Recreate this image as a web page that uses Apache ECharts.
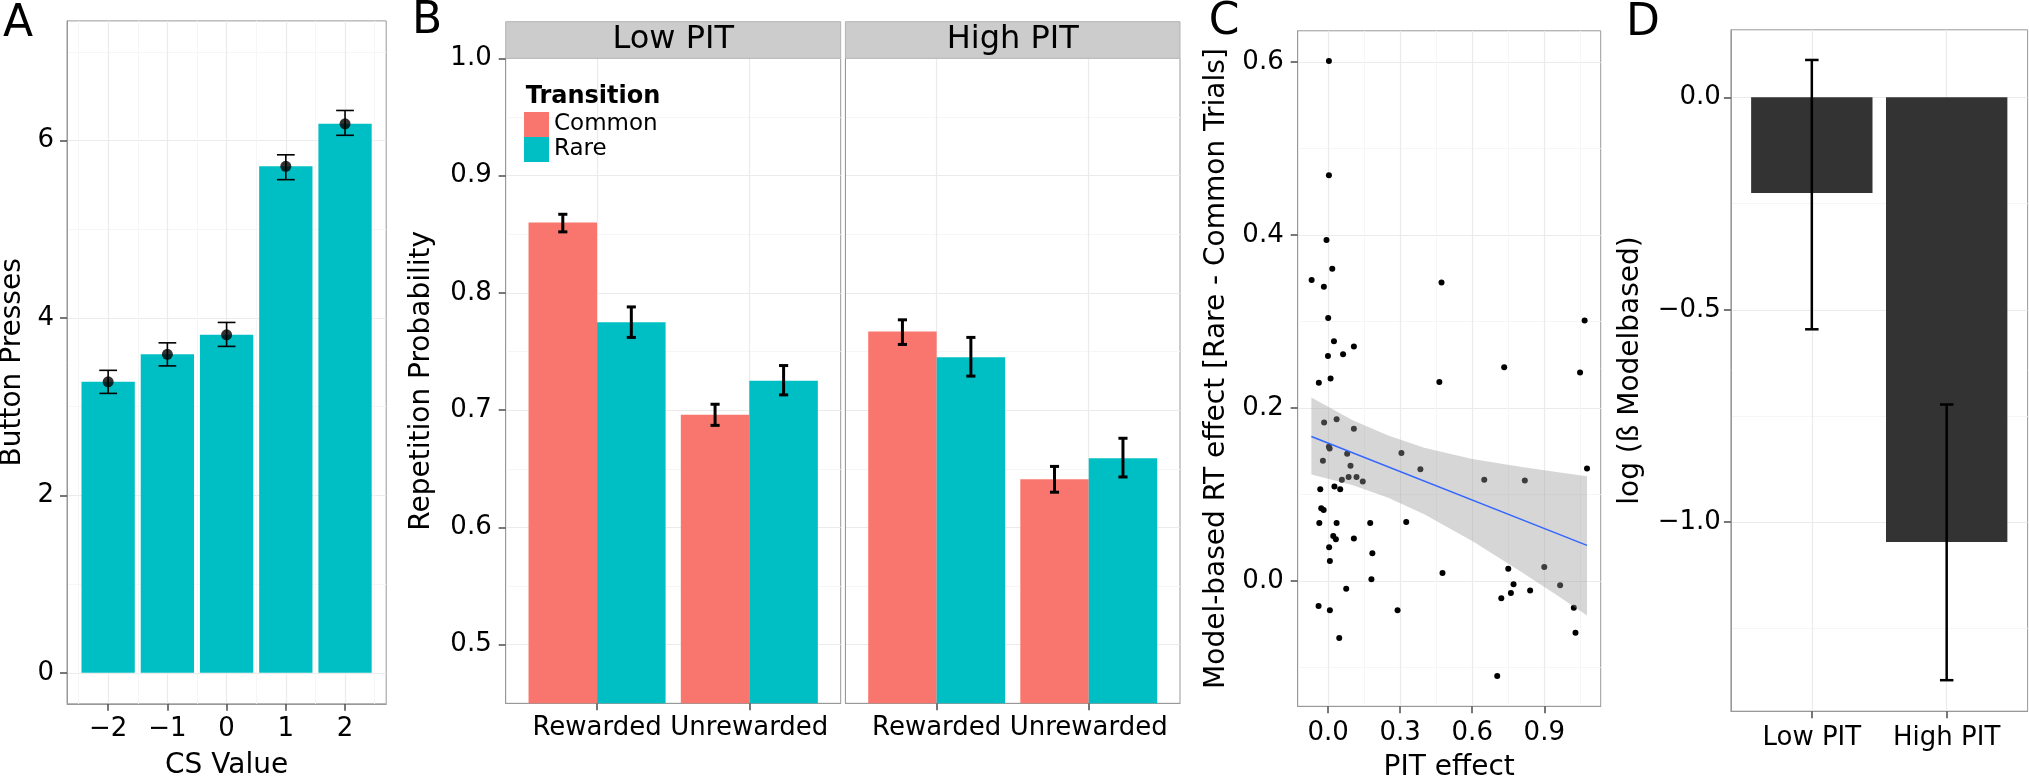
<!DOCTYPE html>
<html><head><meta charset="utf-8">
<script src="https://cdn.jsdelivr.net/npm/echarts@6/dist/echarts.min.js"></script>
<style>html,body{margin:0;padding:0;background:#fff}#chart{width:2029px;height:780px}</style>
</head><body><div id="chart"></div>
<script>
// ---------- Panel A ----------
const csValues = [-2, -1, 0, 1, 2];
const pressMean = [3.28, 3.59, 3.81, 5.71, 6.19];
const pressLow = [3.15, 3.46, 3.68, 5.56, 6.06];
const pressHigh = [3.41, 3.72, 3.95, 5.84, 6.34];
const aXTicks = [-2, -1, 0, 1, 2];
const aYTicks = [0, 2, 4, 6];
// ---------- Panel B ----------
const facets = ['Low PIT', 'High PIT'];
const outcomes = ['Rewarded', 'Unrewarded'];
const transitions = ['Common', 'Rare'];
const lowCommonMean = [0.860, 0.696];
const lowCommonLow = [0.852, 0.687];
const lowCommonHigh = [0.867, 0.705];
const lowRareMean = [0.775, 0.725];
const lowRareLow = [0.762, 0.713];
const lowRareHigh = [0.788, 0.738];
const highCommonMean = [0.767, 0.641];
const highCommonLow = [0.756, 0.630];
const highCommonHigh = [0.777, 0.652];
const highRareMean = [0.745, 0.659];
const highRareLow = [0.729, 0.643];
const highRareHigh = [0.762, 0.676];
const bXTicks = [0, 1];
const bYTicks = [0.5, 0.6, 0.7, 0.8, 0.9, 1.0];
// ---------- Panel C ----------
const pitPoints = [
  [0.003,0.601],[0.003,0.469],[-0.007,0.394],[-0.069,0.348],[-0.018,0.340],[0.017,0.361],
  [0.000,0.304],[0.024,0.277],[0.107,0.271],[-0.001,0.260],[0.062,0.262],[0.010,0.234],
  [-0.039,0.229],[0.472,0.345],[0.463,0.230],[-0.017,0.183],[0.035,0.187],[0.107,0.176],
  [0.003,0.155],[0.006,0.153],[-0.022,0.139],[0.079,0.147],[0.093,0.133],[0.305,0.148],
  [0.384,0.129],[0.085,0.120],[0.118,0.120],[0.144,0.115],[0.057,0.117],[-0.033,0.106],
  [0.026,0.109],[0.050,0.106],[0.650,0.117],[-0.029,0.084],[-0.019,0.082],[-0.037,0.067],
  [0.035,0.067],[0.175,0.067],[0.325,0.068],[0.021,0.052],[0.032,0.048],[0.107,0.049],
  [0.004,0.039],[0.184,0.032],[0.007,0.023],[0.180,0.002],[0.476,0.009],[0.075,-0.009],
  [-0.040,-0.029],[0.007,-0.034],[0.289,-0.034],[0.046,-0.066],[1.068,0.301],[0.733,0.247],
  [1.049,0.241],[1.078,0.130],[0.819,0.116],[0.750,0.014],[0.900,0.016],[0.772,-0.004],
  [0.761,-0.014],[0.841,-0.011],[0.721,-0.020],[0.966,-0.005],[1.023,-0.031],[1.030,-0.060],
  [0.704,-0.110]
];
const fitX = [-0.070, 1.078];
const fitY = [0.167, 0.041];
const bandX = [-0.070, 0.10, 0.25, 0.40, 0.60, 0.80, 0.95, 1.078];
const bandLow = [0.123, 0.111, 0.096, 0.077, 0.046, 0.011, -0.016, -0.040];
const bandHigh = [0.212, 0.186, 0.168, 0.154, 0.141, 0.132, 0.126, 0.121];
const cXTicks = [0, 0.3, 0.6, 0.9];
const cYTicks = [0, 0.2, 0.4, 0.6];
// ---------- Panel D ----------
const pitGroups = ['Low PIT', 'High PIT'];
const betaMean = [-0.225, -1.047];
const betaLow = [-0.546, -1.372];
const betaHigh = [0.088, -0.723];
const dXTicks = [0, 1];
const dYTicks = [-1.0, -0.5, 0.0];

const FONT = 'DejaVu Sans';
const RED = '#F8766D', TEAL = '#00BFC4';
function fmt1(v) { const s = Math.abs(v).toFixed(1); return v < -1e-9 ? '\u2212' + s : s; }
function fmtInt(v) { return v < 0 ? '\u2212' + Math.abs(v) : String(v); }

function barRenderer(off0, off1, color) {
  return function (params, api) {
    const x = api.value(0), y = api.value(1);
    const p1 = api.coord([x + off0, y]);
    const p2 = api.coord([x + off1, 0]);
    const cs = params.coordSys;
    const shape = echarts.graphic.clipRectByRect(
      { x: Math.min(p1[0], p2[0]), y: Math.min(p1[1], p2[1]), width: Math.abs(p2[0] - p1[0]), height: Math.abs(p2[1] - p1[1]) },
      { x: cs.x, y: cs.y, width: cs.width, height: cs.height });
    return shape && { type: 'rect', shape: shape, style: { fill: color } };
  };
}
function errRenderer(halfCap, width) {
  return function (params, api) {
    const x = api.value(0), lo = api.value(1), hi = api.value(2);
    const top = api.coord([x, hi]), bot = api.coord([x, lo]);
    const cl = api.coord([x - halfCap, hi])[0], cr = api.coord([x + halfCap, hi])[0];
    const st = { stroke: '#000', lineWidth: width };
    return { type: 'group', children: [
      { type: 'line', shape: { x1: top[0], y1: top[1], x2: bot[0], y2: bot[1] }, style: st },
      { type: 'line', shape: { x1: cl, y1: top[1], x2: cr, y2: top[1] }, style: st },
      { type: 'line', shape: { x1: cl, y1: bot[1], x2: cr, y2: bot[1] }, style: st }
    ] };
  };
}

const tickStyle = { show: true, inside: false, length: 7, lineStyle: { color: '#555', width: 1.6 } };
const splitMajor = { show: true, lineStyle: { color: '#ebebeb', width: 1.2 } };
const splitMinor = { show: true, lineStyle: { color: '#f6f6f6', width: 1 } };
const labelBase = { fontFamily: FONT, fontSize: 26, color: '#000' };
const nameStyle = { fontFamily: FONT, fontSize: 28, color: '#000' };
const gridBase = { show: true, backgroundColor: '#fff', borderColor: '#999', borderWidth: 1, containLabel: false, outerBoundsMode: 'none' };

function axis(o) {
  const a = {
    type: 'value', gridIndex: o.grid, min: o.min, max: o.max, splitNumber: o.split || 5,
    axisLine: { show: true, onZero: false, lineStyle: { color: '#999', width: 1 } },
    axisTick: Object.assign({}, tickStyle, { show: o.showTick !== false, customValues: o.ticks }),
    axisLabel: Object.assign({}, labelBase, { show: o.showLabel !== false, margin: o.margin || 12, customValues: o.ticks, formatter: o.fmt }),
    splitLine: splitMajor,
    minorTick: { show: false, splitNumber: 2 },
    minorSplitLine: o.minor ? splitMinor : { show: false }
  };
  if (o.name) {
    a.name = o.name; a.nameLocation = 'middle'; a.nameGap = o.nameGap; a.nameTextStyle = nameStyle;
  }
  return a;
}

const series = [];
// A
series.push({ type: 'custom', xAxisIndex: 0, yAxisIndex: 0, renderItem: barRenderer(-0.45, 0.45, TEAL),
  encode: { x: 0, y: 1 }, data: csValues.map((x, i) => [x, pressMean[i]]) });
series.push({ type: 'custom', xAxisIndex: 0, yAxisIndex: 0, renderItem: errRenderer(0.15, 1.6),
  encode: { x: 0, y: [1, 2] }, data: csValues.map((x, i) => [x, pressLow[i], pressHigh[i]]) });
series.push({ type: 'scatter', xAxisIndex: 0, yAxisIndex: 0, symbolSize: 11, itemStyle: { color: '#000' },
  data: csValues.map((x, i) => [x, pressMean[i]]) });
// B
const bSets = [
  [lowCommonMean, lowCommonLow, lowCommonHigh, lowRareMean, lowRareLow, lowRareHigh],
  [highCommonMean, highCommonLow, highCommonHigh, highRareMean, highRareLow, highRareHigh]
];
bSets.forEach((s, f) => {
  const gi = 1 + f;
  series.push({ name: transitions[0], type: 'custom', xAxisIndex: gi, yAxisIndex: gi, itemStyle: { color: RED },
    renderItem: barRenderer(-0.45, 0, RED), encode: { x: 0, y: 1 }, data: outcomes.map((_, i) => [i, s[0][i]]) });
  series.push({ name: transitions[1], type: 'custom', xAxisIndex: gi, yAxisIndex: gi, itemStyle: { color: TEAL },
    renderItem: barRenderer(0, 0.45, TEAL), encode: { x: 0, y: 1 }, data: outcomes.map((_, i) => [i, s[3][i]]) });
  series.push({ type: 'custom', xAxisIndex: gi, yAxisIndex: gi, renderItem: errRenderer(0.03, 3),
    encode: { x: 0, y: [1, 2] }, data: outcomes.map((_, i) => [i - 0.225, s[1][i], s[2][i]]) });
  series.push({ type: 'custom', xAxisIndex: gi, yAxisIndex: gi, renderItem: errRenderer(0.03, 3),
    encode: { x: 0, y: [1, 2] }, data: outcomes.map((_, i) => [i + 0.225, s[4][i], s[5][i]]) });
});
// C
series.push({ type: 'scatter', xAxisIndex: 3, yAxisIndex: 3, symbolSize: 6, itemStyle: { color: '#000', opacity: 1 }, z: 2, data: pitPoints });
series.push({ type: 'custom', xAxisIndex: 3, yAxisIndex: 3, z: 3, encode: { x: 0, y: [1, 2] },
  data: bandX.map((x, i) => [x, bandLow[i], bandHigh[i]]),
  renderItem: function (params, api) {
    if (params.dataIndex !== 0) return null;
    const pts = [];
    for (let i = 0; i < bandX.length; i++) pts.push(api.coord([bandX[i], bandHigh[i]]));
    for (let i = bandX.length - 1; i >= 0; i--) pts.push(api.coord([bandX[i], bandLow[i]]));
    return { type: 'polygon', shape: { points: pts }, style: { fill: 'rgba(153,153,153,0.4)' } };
  } });
series.push({ type: 'line', xAxisIndex: 3, yAxisIndex: 3, z: 4, showSymbol: false, silent: true,
  lineStyle: { color: '#3366FF', width: 1.5 }, data: fitX.map((x, i) => [x, fitY[i]]) });
// D
series.push({ type: 'custom', xAxisIndex: 4, yAxisIndex: 4, renderItem: barRenderer(-0.45, 0.45, '#333333'),
  encode: { x: 0, y: 1 }, data: pitGroups.map((_, i) => [i, betaMean[i]]) });
series.push({ type: 'custom', xAxisIndex: 4, yAxisIndex: 4, renderItem: errRenderer(0.05, 2.5),
  encode: { x: 0, y: [1, 2] }, data: pitGroups.map((_, i) => [i, betaLow[i], betaHigh[i]]) });

function txt(x, y, text, size, weight, align) {
  return { type: 'text', x: x, y: y, z: 100, style: { text: text, fontFamily: FONT, fontSize: size, fontWeight: weight || 'normal',
    fill: '#000', align: align || 'center', verticalAlign: 'middle' } };
}
function strip(x, w, label) {
  return [
    { type: 'rect', z: 90, shape: { x: x, y: 21.7, width: w, height: 36.6 }, style: { fill: '#cccccc', stroke: '#b3b3b3', lineWidth: 1 } },
    txt(x + w / 2, 40, label, 32)
  ];
}

const option = {
  animation: false,
  backgroundColor: '#fff',
  grid: [
    Object.assign({ left: 67, top: 20.9, width: 319.2, height: 682.9 }, gridBase),
    Object.assign({ left: 505.7, top: 58.3, width: 335, height: 645 }, gridBase),
    Object.assign({ left: 845.4, top: 58.3, width: 334.6, height: 645 }, gridBase),
    Object.assign({ left: 1297.7, top: 30.8, width: 303, height: 675.5 }, gridBase),
    Object.assign({ left: 1730.9, top: 29.8, width: 296.7, height: 681.4 }, gridBase)
  ],
  xAxis: [
    axis({ grid: 0, min: -2.695, max: 2.695, ticks: aXTicks, fmt: fmtInt, minor: true, margin: 12, name: 'CS Value', nameGap: 48 }),
    axis({ grid: 1, min: -0.6, max: 1.6, ticks: bXTicks, fmt: v => outcomes[Math.round(v)], margin: 12 }),
    axis({ grid: 2, min: -0.6, max: 1.6, ticks: bXTicks, fmt: v => outcomes[Math.round(v)], margin: 12 }),
    axis({ grid: 3, min: -0.127, max: 1.135, split: 4, ticks: cXTicks, fmt: fmt1, minor: true, margin: 14, name: 'PIT effect', nameGap: 47 }),
    axis({ grid: 4, min: -0.6, max: 1.6, ticks: dXTicks, fmt: v => pitGroups[Math.round(v)], margin: 14 })
  ],
  yAxis: [
    axis({ grid: 0, min: -0.35, max: 7.35, ticks: aYTicks, fmt: fmtInt, minor: true, margin: 13, name: 'Button Presses', nameGap: 40 }),
    axis({ grid: 1, min: 0.45, max: 1.0, ticks: bYTicks, fmt: fmt1, minor: true, margin: 14, name: 'Repetition Probability', nameGap: 70 }),
    axis({ grid: 2, min: 0.45, max: 1.0, ticks: bYTicks, fmt: fmt1, minor: true, showLabel: false, showTick: false }),
    axis({ grid: 3, min: -0.145, max: 0.636, ticks: cYTicks, fmt: fmt1, minor: true, margin: 14, name: 'Model-based RT effect [Rare - Common Trials]', nameGap: 67 }),
    axis({ grid: 4, min: -1.445, max: 0.159, split: 3, ticks: dYTicks, fmt: fmt1, minor: true, margin: 10, name: 'log (\u00DF Modelbased)', nameGap: 86 })
  ],
  legend: {
    orient: 'vertical', left: 524, top: 112, itemWidth: 25, itemHeight: 25, itemGap: 0, icon: 'rect', padding: 0,
    selectedMode: false, data: transitions, textStyle: { fontFamily: FONT, fontSize: 23, color: '#000' }
  },
  graphic: [].concat(
    strip(505.7, 335, facets[0]),
    strip(845.4, 334.6, facets[1]),
    [
      txt(525.7, 97, 'Transition', 24, 'bold', 'left'),
      txt(18, 25, 'A', 44),
      txt(427, 22, 'B', 44),
      txt(1224, 23, 'C', 44),
      txt(1643, 24, 'D', 44)
    ]
  ),
  series: series
};
const chart = echarts.init(document.getElementById('chart'));
chart.setOption(option);
</script></body></html>
